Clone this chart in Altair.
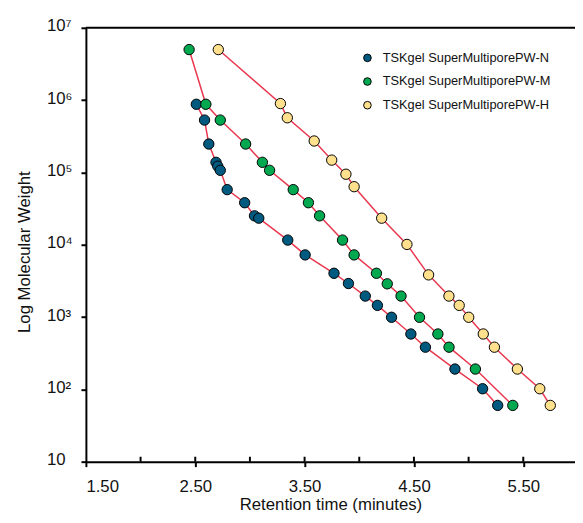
import altair as alt
import pandas as pd

# Retention time (minutes) and molecular weight per column
n_time = [2.51, 2.585, 2.624, 2.69, 2.706, 2.729, 2.792, 2.952, 3.042, 3.081, 3.346, 3.505,
          3.769, 3.901, 4.055, 4.166, 4.295, 4.472, 4.605, 4.875, 5.128, 5.266]
n_mw = [876000, 530000, 247000, 138000, 122000, 107000, 57800, 38100, 25100, 23300, 11600, 7230,
        4030, 2910, 1950, 1450, 993, 583, 383, 191, 102, 60]

m_time = [2.444, 2.597, 2.729, 2.961, 3.114, 3.18, 3.396, 3.535, 3.637, 3.847, 3.953, 4.157,
          4.256, 4.382, 4.551, 4.719, 4.821, 5.062, 5.404]
m_mw = [5000000, 876000, 530000, 247000, 138000, 107000, 57800, 38100, 25100, 11600, 7230, 4030,
        2880, 1950, 993, 583, 383, 191, 60]

h_time = [2.711, 3.279, 3.342, 3.588, 3.748, 3.878, 3.953, 4.205, 4.436, 4.634, 4.82, 4.914,
          5.001, 5.134, 5.236, 5.446, 5.651, 5.747]
h_mw = [5000000, 896000, 570000, 272000, 148000, 94400, 63500, 23300, 10100, 3830, 1950, 1450,
        993, 583, 383, 191, 102, 60]

series_names = ["TSKgel SuperMultiporePW-N", "TSKgel SuperMultiporePW-M", "TSKgel SuperMultiporePW-H"]
series_colors = ["#005A80", "#00A850", "#FFE08C"]

x_major = [1.5, 2.5, 3.5, 4.5, 5.5]
x_inner_ticks = [2.0, 2.5, 3.0, 3.5, 4.0, 4.5, 5.0, 5.5]
y_ticks = [10, 100, 1000, 10000, 100000, 1000000, 10000000]

rows = []
for name, ts, ms in zip(series_names, [n_time, m_time, h_time], [n_mw, m_mw, h_mw]):
    for t, m in zip(ts, ms):
        rows.append({"series": name, "time": t, "mw": m})
df = pd.DataFrame(rows)

FONT = "Liberation Sans Narrow, Liberation Sans, Arial, sans-serif"

x_scale = alt.Scale(domain=[1.5, 5.973], nice=False, zero=False)
y_scale = alt.Scale(type="log", domain=[10, 10000000], nice=False)

x_enc = alt.X("time:Q", scale=x_scale,
              axis=alt.Axis(values=x_major, format=".2f", title="Retention time (minutes)",
                            grid=False, tickSize=5, tickWidth=2, tickColor="black",
                            domainColor="black", domainWidth=2, labelPadding=12,
                            labelFontSize=17, titleFontSize=17, titleFontWeight="normal",
                            labelColor="#111", titleColor="#111", titlePadding=2,
                            labelFont=FONT, titleFont=FONT))
y_label_expr = ("datum.value == 10 ? '10' : datum.value == 100 ? '10²' : datum.value == 1000 ? '10³' : "
                "datum.value == 10000 ? '10⁴' : datum.value == 100000 ? '10⁵' : "
                "datum.value == 1000000 ? '10⁶' : '10⁷'")
y_enc = alt.Y("mw:Q", scale=y_scale,
              axis=alt.Axis(values=y_ticks, labelExpr=y_label_expr, title="Log Molecular Weight",
                            grid=False, tickSize=5, tickWidth=2, tickColor="black",
                            domainColor="black", domainWidth=2, labelAlign="left",
                            labelPadding=35, labelOffset=-2, labelFontSize=17, titleFontSize=17,
                            titleFontWeight="normal", labelColor="#111", titleColor="#111",
                            titlePadding=13, titleY=227, labelFont=FONT, titleFont=FONT))

base = alt.Chart(df)

lines = base.mark_line(color="#E8384F", strokeWidth=1.5).encode(
    x=x_enc, y=y_enc, detail="series:N", order="time:Q"
)
points = base.mark_point(filled=True, size=110, stroke="black", strokeWidth=1, opacity=1).encode(
    x=x_enc, y=y_enc,
    fill=alt.Fill("series:N", scale=alt.Scale(domain=series_names, range=series_colors),
                  sort=series_names,
                  legend=alt.Legend(title=None, orient="none", legendX=279, legendY=24,
                                    symbolSize=60, symbolStrokeColor="black",
                                    symbolStrokeWidth=1, labelFontSize=13, labelFont=FONT,
                                    labelOffset=9, labelLimit=300, labelColor="#111",
                                    rowPadding=10, symbolType="circle")),
)

ticks_df = pd.DataFrame({"t": x_inner_ticks, "y": [10] * len(x_inner_ticks)})
inner_ticks = alt.Chart(ticks_df).mark_rule(color="black", strokeWidth=2, yOffset=-5,
                                             y2Offset=0).encode(
    x=alt.X("t:Q", scale=x_scale), y=alt.Y("y:Q", scale=y_scale), y2="y:Q"
)

top_df = pd.DataFrame({"y": [10000000]})
top_rule = alt.Chart(top_df).mark_rule(color="black", strokeWidth=2).encode(
    y=alt.Y("y:Q", scale=y_scale), x=alt.value(0), x2=alt.value(496)
)

chart = alt.layer(top_rule, inner_ticks, lines, points).properties(
    width=496, height=440,
    autosize=alt.AutoSizeParams(type="none"),
    padding={"left": 79, "top": 16.5, "right": 0, "bottom": 50.5},
).configure_view(stroke=None)

chart.save("out.html", embed_options={"renderer": "svg", "actions": False})
